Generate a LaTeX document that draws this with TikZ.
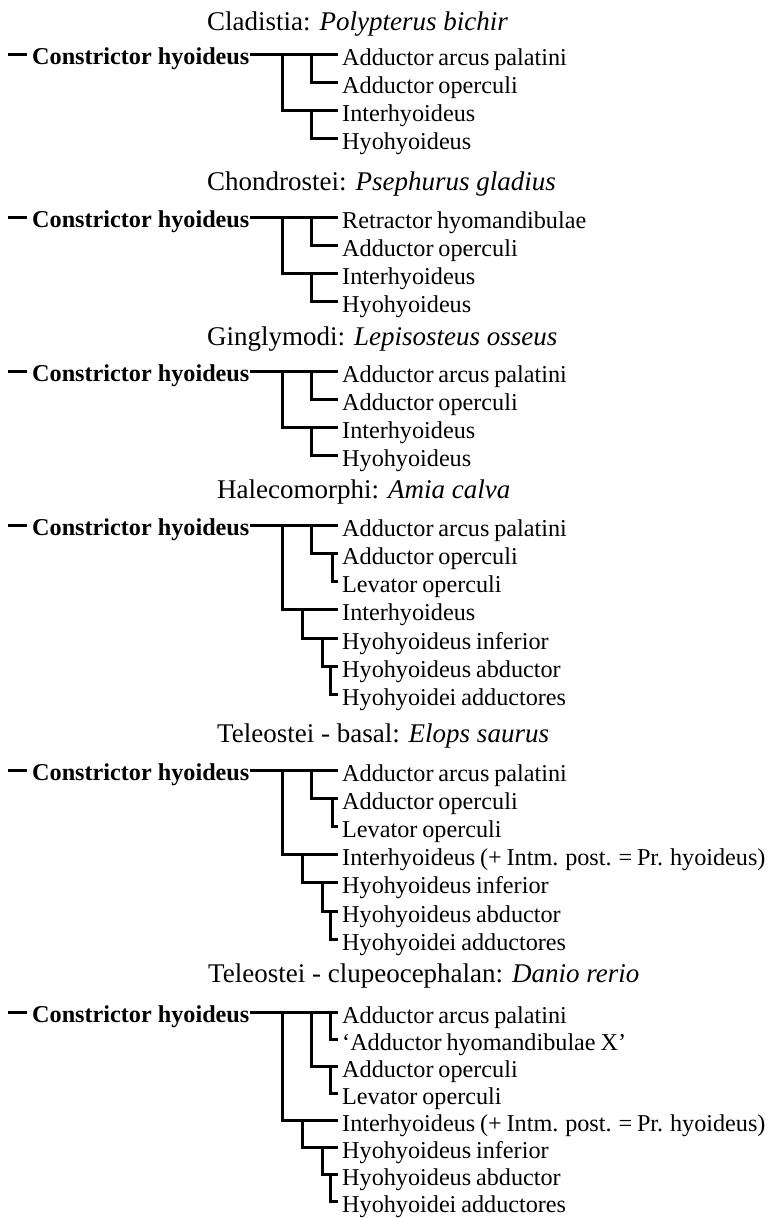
\documentclass[tikz,border=0pt]{standalone}
\usepackage{fontspec}
\setmainfont{Liberation Serif}
\newfontfamily\leaffont[WordSpace=0.8]{Liberation Serif}
\begin{document}
\begin{tikzpicture}[x=1pt,y=-1pt,
  br/.style={line width=3pt},
  leaftext/.style={inner sep=0pt, anchor=base west, font=\leaffont\fontsize{24.2}{28}\selectfont},
  roottext/.style={inner sep=0pt, anchor=base west, font=\fontsize{24.2}{28}\selectfont\bfseries},
  titletext/.style={inner sep=0pt, anchor=base west, font=\fontsize{27}{32}\selectfont}]
\useasboundingbox (0,0) rectangle (770,1218);

% a muscle name, with the point where its branch ends
\newcommand\mkleaf[3]{%
  \node[leaftext] (#1) at (342,{#2+11}) {#3};
  \coordinate (#1e) at (338,#2);}
% the root muscle of a tree, with its short stub and outgoing branch point
\newcommand\mkroot[2]{%
  \coordinate (#1s) at (8,#2);
  \coordinate (#1t) at (27,#2);
  \node[roottext] (#1) at (32,{#2+10}) {Constrictor hyoideus};
  \coordinate (#1o) at (250,#2);
  \draw[br] (#1s) -- (#1t);}

% ---------- Cladistia ----------
\node[titletext] (t1) at (207,30) {Cladistia: \textit{Polypterus bichir}};
\mkroot{a}{54}
\mkleaf{a1}{54}{Adductor arcus palatini}
\mkleaf{a2}{82}{Adductor operculi}
\mkleaf{a3}{110}{Interhyoideus}
\mkleaf{a4}{138}{Hyohyoideus}
\coordinate (an1) at (282,54);
\coordinate (an2) at (311,54);
\coordinate (an3) at (311,110);
\draw[br] (ao) -- (a1e);
\draw[br] (an1) |- (a3e);
\draw[br] (an2) |- (a2e);
\draw[br] (an3) |- (a4e);

% ---------- Chondrostei ----------
\node[titletext] (t2) at (207,190) {Chondrostei: \textit{Psephurus gladius}};
\mkroot{b}{217}
\mkleaf{b1}{217}{Retractor hyomandibulae}
\mkleaf{b2}{245.3}{Adductor operculi}
\mkleaf{b3}{273.6}{Interhyoideus}
\mkleaf{b4}{301.9}{Hyohyoideus}
\coordinate (bn1) at (282,217);
\coordinate (bn2) at (311,217);
\coordinate (bn3) at (311,273.6);
\draw[br] (bo) -- (b1e);
\draw[br] (bn1) |- (b3e);
\draw[br] (bn2) |- (b2e);
\draw[br] (bn3) |- (b4e);

% ---------- Ginglymodi ----------
\node[titletext] (t3) at (207,345) {Ginglymodi: \textit{Lepisosteus osseus}};
\mkroot{c}{371}
\mkleaf{c1}{371}{Adductor arcus palatini}
\mkleaf{c2}{399.2}{Adductor operculi}
\mkleaf{c3}{427.4}{Interhyoideus}
\mkleaf{c4}{455.6}{Hyohyoideus}
\coordinate (cn1) at (282,371);
\coordinate (cn2) at (311,371);
\coordinate (cn3) at (311,427.4);
\draw[br] (co) -- (c1e);
\draw[br] (cn1) |- (c3e);
\draw[br] (cn2) |- (c2e);
\draw[br] (cn3) |- (c4e);

% ---------- Halecomorphi ----------
\node[titletext] (t4) at (217,498) {Halecomorphi: \textit{Amia calva}};
\mkroot{d}{525}
\mkleaf{d1}{525}{Adductor arcus palatini}
\mkleaf{d2}{553.3}{Adductor operculi}
\mkleaf{d3}{581.6}{Levator operculi}
\mkleaf{d4}{609.9}{Interhyoideus}
\mkleaf{d5}{638.2}{Hyohyoideus inferior}
\mkleaf{d6}{666.5}{Hyohyoideus abductor}
\mkleaf{d7}{694.8}{Hyohyoidei adductores}
\coordinate (dn1) at (282,525);
\coordinate (dn2) at (311,525);
\coordinate (dn3) at (332,553.3);
\coordinate (dn4) at (302,609.9);
\coordinate (dn5) at (322,638.2);
\coordinate (dn6) at (330,666.5);
\draw[br] (do) -- (d1e);
\draw[br] (dn1) |- (d4e);
\draw[br] (dn2) |- (d2e);
\draw[br] (dn3) |- (d3e);
\draw[br] (dn4) |- (d5e);
\draw[br] (dn5) |- (d6e);
\draw[br] (dn6) |- (d7e);

% ---------- Teleostei, basal ----------
\node[titletext] (t5) at (217,742) {Teleostei - basal: \textit{Elops saurus}};
\mkroot{e}{770}
\mkleaf{e1}{770}{Adductor arcus palatini}
\mkleaf{e2}{798.2}{Adductor operculi}
\mkleaf{e3}{826.4}{Levator operculi}
\mkleaf{e4}{854.6}{Interhyoideus (+ Intm. post. = Pr. hyoideus)}
\mkleaf{e5}{882.8}{Hyohyoideus inferior}
\mkleaf{e6}{911}{Hyohyoideus abductor}
\mkleaf{e7}{939.2}{Hyohyoidei adductores}
\coordinate (en1) at (282,770);
\coordinate (en2) at (311,770);
\coordinate (en3) at (332,798.2);
\coordinate (en4) at (302,854.6);
\coordinate (en5) at (322,882.8);
\coordinate (en6) at (330,911);
\draw[br] (eo) -- (e1e);
\draw[br] (en1) |- (e4e);
\draw[br] (en2) |- (e2e);
\draw[br] (en3) |- (e3e);
\draw[br] (en4) |- (e5e);
\draw[br] (en5) |- (e6e);
\draw[br] (en6) |- (e7e);

% ---------- Teleostei, clupeocephalan ----------
\node[titletext] (t6) at (208,982) {Teleostei - clupeocephalan: \textit{Danio rerio}};
\mkroot{f}{1012}
\mkleaf{f1}{1012}{Adductor arcus palatini}
\mkleaf{f2}{1039.1}{‘Adductor hyomandibulae X’}
\mkleaf{f3}{1066.2}{Adductor operculi}
\mkleaf{f4}{1093.3}{Levator operculi}
\mkleaf{f5}{1120.4}{Interhyoideus (+ Intm. post. = Pr. hyoideus)}
\mkleaf{f6}{1147.5}{Hyohyoideus inferior}
\mkleaf{f7}{1174.6}{Hyohyoideus abductor}
\mkleaf{f8}{1201.7}{Hyohyoidei adductores}
\coordinate (fn1) at (282,1012);
\coordinate (fn2) at (311,1012);
\coordinate (fn3) at (330,1012);
\coordinate (fn4) at (330,1066.2);
\coordinate (fn5) at (302,1120.4);
\coordinate (fn6) at (322,1147.5);
\coordinate (fn7) at (330,1174.6);
\draw[br] (fo) -- (f1e);
\draw[br] (fn1) |- (f5e);
\draw[br] (fn2) |- (f3e);
\draw[br] (fn3) |- (f2e);
\draw[br] (fn4) |- (f4e);
\draw[br] (fn5) |- (f6e);
\draw[br] (fn6) |- (f7e);
\draw[br] (fn7) |- (f8e);
\end{tikzpicture}
\end{document}
